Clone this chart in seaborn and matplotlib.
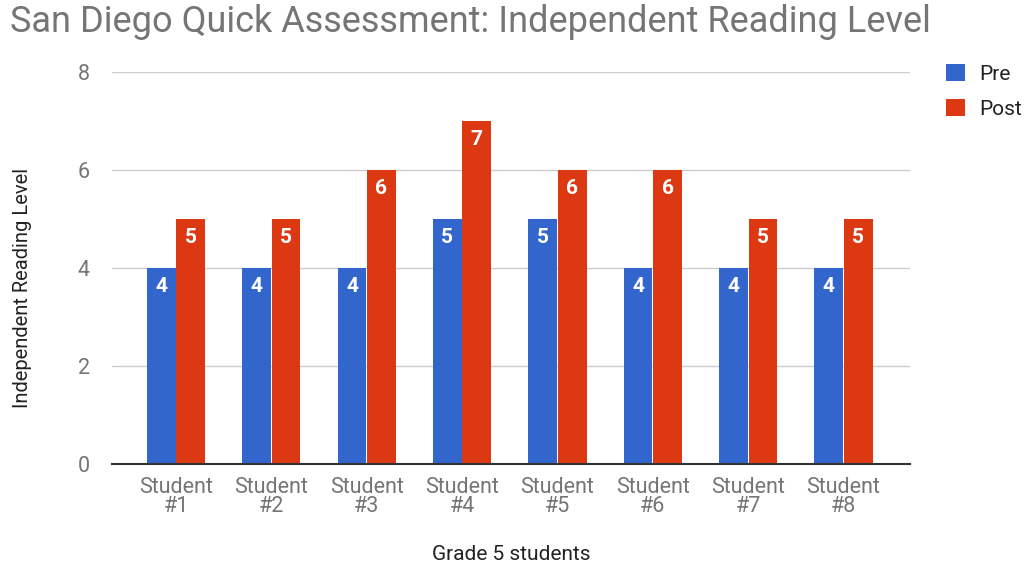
import numpy as np
import pandas as pd
import matplotlib
matplotlib.use("Agg")
import matplotlib.pyplot as plt
import seaborn as sns

# Данные с графика
students = ["Student\n#1", "Student\n#2", "Student\n#3", "Student\n#4",
            "Student\n#5", "Student\n#6", "Student\n#7", "Student\n#8"]
pre_scores = [4, 4, 4, 5, 5, 4, 4, 4]
post_scores = [5, 5, 6, 7, 6, 6, 5, 5]
series_names = ["Pre", "Post"]
colors = ["#3366CC", "#DC3912"]

df = pd.DataFrame({
    "student": students * 2,
    "level": pre_scores + post_scores,
    "test": ["Pre"] * len(students) + ["Post"] * len(students),
})

sns.set_style("white")
plt.rcParams["font.family"] = ["Roboto", "DejaVu Sans"]

fig = plt.figure(figsize=(10.33, 5.69), dpi=100)
ax = fig.add_axes([0.1084, 0.1845, 0.7725, 0.689])

sns.barplot(data=df, x="student", y="level", hue="test", hue_order=series_names,
            palette=colors, width=0.62, gap=0.03, saturation=1, ax=ax,
            edgecolor="white", linewidth=0)

# Подписи значений внутри столбцов
for cont in ax.containers:
    ax.bar_label(cont, labels=[f"{int(v)}" for v in cont.datavalues],
                 label_type="edge", padding=-20, color="white",
                 fontsize=15, fontweight="bold")

ax.set_ylim(0, 8)
ax.set_yticks([0, 2, 4, 6, 8])
ax.set_xlim(-0.671, 7.697)
ax.yaxis.grid(True, color="#cccccc", linewidth=1)
ax.set_axisbelow(True)
for s in ["top", "right", "left"]:
    ax.spines[s].set_visible(False)
ax.spines["bottom"].set_color("#333333")
ax.spines["bottom"].set_linewidth(1.5)
ax.tick_params(axis="both", length=0, labelsize=15.5, labelcolor="#757575")
ax.tick_params(axis="y", pad=16)
ax.tick_params(axis="x", pad=9)
for t in ax.get_xticklabels():
    t.set_linespacing(0.9)

ax.set_xlabel("Grade 5 students", fontsize=15, color="#222222", labelpad=20)
ax.set_ylabel("Independent Reading Level", fontsize=14.5, color="#222222")
ax.yaxis.set_label_coords(-0.1, 0.45)

fig.text(0.0097, 0.962, "San Diego Quick Assessment: Independent Reading Level",
         fontsize=26, color="#757575", va="center", ha="left")

leg = ax.legend(loc="upper left", bbox_to_anchor=(1.035, 1.042), frameon=False,
                fontsize=15, handlelength=0.9, handleheight=0.9,
                labelspacing=0.72, handletextpad=0.7, borderaxespad=0)
for t in leg.get_texts():
    t.set_color("#222222")

fig.savefig("out.png", dpi=100)
